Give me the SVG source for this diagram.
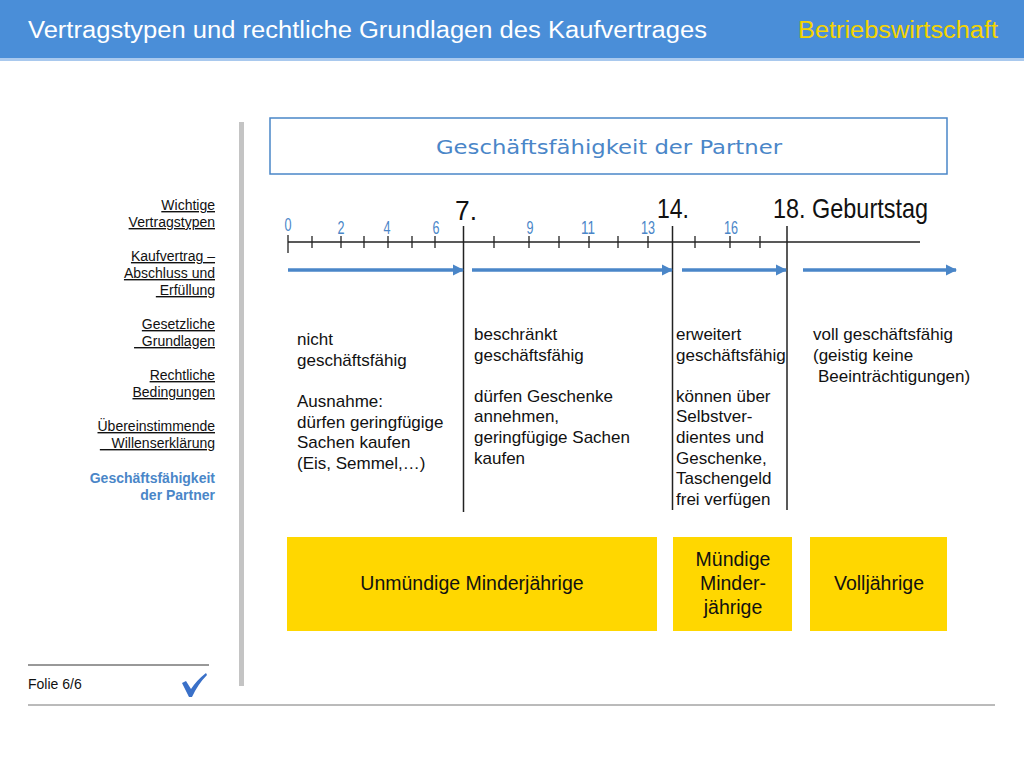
<svg xmlns="http://www.w3.org/2000/svg" width="1024" height="768" viewBox="0 0 1024 768">
<defs>
<style>
.t{font-family:"Liberation Sans",Arial,sans-serif;}
.nav{font-family:"Liberation Sans",Arial,sans-serif;font-size:14px;fill:#111;text-anchor:end;text-decoration:underline;}
.body{font-family:"Liberation Sans",Arial,sans-serif;font-size:17px;fill:#111;}
.num{font-family:"Liberation Sans",Arial,sans-serif;font-size:18px;fill:#4a86c8;text-anchor:middle;}
.big{font-family:"Liberation Sans",Arial,sans-serif;font-size:28px;fill:#111;}
.tick{stroke:#222;stroke-width:1.3;}
.vline{stroke:#222;stroke-width:1.5;}
.arr{stroke:#4a86c8;stroke-width:3.5;fill:none;}
.box{fill:#ffd700;}
.boxt{font-family:"Liberation Sans",Arial,sans-serif;font-size:19.5px;fill:#111;text-anchor:middle;}
</style>
<marker id="ah" viewBox="0 0 10 10" refX="9" refY="5" markerWidth="3.2" markerHeight="3.2" orient="auto" markerUnits="strokeWidth">
<path d="M0,0 L10,5 L0,10 z" fill="#4a86c8"/>
</marker>
</defs>
<rect width="1024" height="768" fill="#fff"/>
<g id="header">
<rect x="0" y="0" width="1024" height="58" fill="#4a8ed8"/>
<rect x="0" y="58" width="1024" height="3" fill="#a9c9ee"/>
<text class="t" x="28" y="38" font-size="23.5" fill="#fff" textLength="679" lengthAdjust="spacingAndGlyphs">Vertragstypen und rechtliche Grundlagen des Kaufvertrages</text>
<text class="t" x="998" y="38" font-size="23.5" fill="#f5d400" text-anchor="end" textLength="200" lengthAdjust="spacingAndGlyphs">Betriebswirtschaft</text>
</g>
<g id="sidebar">
<rect x="239" y="122" width="5" height="564" fill="#c4c4c4"/>
<text class="nav" x="215" y="210">Wichtige</text>
<text class="nav" x="215" y="227">Vertragstypen</text>
<text class="nav" x="215" y="261">Kaufvertrag –</text>
<text class="nav" x="215" y="278">Abschluss und</text>
<text class="nav" x="215" y="295" xml:space="preserve"> Erfüllung</text>
<text class="nav" x="215" y="329">Gesetzliche</text>
<text class="nav" x="215" y="346" xml:space="preserve">  Grundlagen</text>
<text class="nav" x="215" y="380">Rechtliche</text>
<text class="nav" x="215" y="397">Bedingungen</text>
<text class="nav" x="215" y="431">Übereinstimmende</text>
<text class="nav" x="215" y="448" xml:space="preserve">   Willenserklärung</text>
<text class="t" x="215" y="483" font-size="14" font-weight="bold" fill="#4a86c8" text-anchor="end">Geschäftsfähigkeit</text>
<text class="t" x="215" y="500" font-size="14" font-weight="bold" fill="#4a86c8" text-anchor="end">der Partner</text>
</g>
<g id="title-box">
<rect x="270" y="118" width="677" height="56" fill="#fff" stroke="#4a86c8" stroke-width="1.5"/>
<text x="436" y="154" font-family="'DejaVu Sans',Verdana,sans-serif" font-size="19.5" fill="#4a86c8" textLength="346" lengthAdjust="spacingAndGlyphs">Geschäftsfähigkeit der Partner</text>
</g>
<g id="timeline">
<line x1="288" y1="242" x2="920" y2="242" stroke="#222" stroke-width="1.3"/>
<line class="tick" x1="288" y1="235" x2="288" y2="253"/>
<line class="tick" x1="312" y1="236" x2="312" y2="248"/>
<line class="tick" x1="341" y1="236" x2="341" y2="248"/>
<line class="tick" x1="364" y1="236" x2="364" y2="248"/>
<line class="tick" x1="388" y1="236" x2="388" y2="248"/>
<line class="tick" x1="412" y1="236" x2="412" y2="248"/>
<line class="tick" x1="435" y1="236" x2="435" y2="248"/>
<line class="tick" x1="494" y1="236" x2="494" y2="248"/>
<line class="tick" x1="529" y1="236" x2="529" y2="248"/>
<line class="tick" x1="559" y1="236" x2="559" y2="248"/>
<line class="tick" x1="589" y1="236" x2="589" y2="248"/>
<line class="tick" x1="618" y1="236" x2="618" y2="248"/>
<line class="tick" x1="648" y1="236" x2="648" y2="248"/>
<line class="tick" x1="695" y1="236" x2="695" y2="248"/>
<line class="tick" x1="730" y1="236" x2="730" y2="248"/>
<line class="tick" x1="760" y1="236" x2="760" y2="248"/>
<text class="num" x="288" y="231" textLength="7" lengthAdjust="spacingAndGlyphs">0</text>
<text class="num" x="341" y="234" textLength="7" lengthAdjust="spacingAndGlyphs">2</text>
<text class="num" x="387" y="234" textLength="7" lengthAdjust="spacingAndGlyphs">4</text>
<text class="num" x="436" y="234" textLength="7" lengthAdjust="spacingAndGlyphs">6</text>
<text class="num" x="530" y="234" textLength="7" lengthAdjust="spacingAndGlyphs">9</text>
<text class="num" x="588" y="234" textLength="14" lengthAdjust="spacingAndGlyphs">11</text>
<text class="num" x="648" y="234" textLength="14" lengthAdjust="spacingAndGlyphs">13</text>
<text class="num" x="731" y="234" textLength="14" lengthAdjust="spacingAndGlyphs">16</text>
<line class="vline" x1="463.5" y1="226" x2="463.5" y2="512"/>
<line class="vline" x1="672.5" y1="226" x2="672.5" y2="510"/>
<line class="vline" x1="787" y1="226" x2="787" y2="510"/>
<text class="big" x="466" y="220" text-anchor="middle" textLength="22" lengthAdjust="spacingAndGlyphs">7.</text>
<text class="big" x="673" y="218" text-anchor="middle" textLength="32" lengthAdjust="spacingAndGlyphs">14.</text>
<text class="big" x="773" y="218" textLength="155" lengthAdjust="spacingAndGlyphs">18. Geburtstag</text>
</g>
<g id="connectors">
<line class="arr" x1="288" y1="270" x2="463" y2="270" marker-end="url(#ah)"/>
<line class="arr" x1="472" y1="270" x2="672" y2="270" marker-end="url(#ah)"/>
<line class="arr" x1="682" y1="270" x2="786" y2="270" marker-end="url(#ah)"/>
<line class="arr" x1="803" y1="270" x2="956" y2="270" marker-end="url(#ah)"/>
</g>
<g id="col1">
<text class="body" x="297" y="345">nicht</text>
<text class="body" x="297" y="366">geschäftsfähig</text>
<text class="body" x="297" y="407">Ausnahme:</text>
<text class="body" x="297" y="428">dürfen geringfügige</text>
<text class="body" x="297" y="448">Sachen kaufen</text>
<text class="body" x="297" y="469">(Eis, Semmel,…)</text>
</g>
<g id="col2">
<text class="body" x="474" y="340">beschränkt</text>
<text class="body" x="474" y="361">geschäftsfähig</text>
<text class="body" x="474" y="402">dürfen Geschenke</text>
<text class="body" x="474" y="422">annehmen,</text>
<text class="body" x="474" y="443">geringfügige Sachen</text>
<text class="body" x="474" y="464">kaufen</text>
</g>
<g id="col3">
<text class="body" x="676" y="340">erweitert</text>
<text class="body" x="676" y="361">geschäftsfähig</text>
<text class="body" x="676" y="402">können über</text>
<text class="body" x="676" y="422">Selbstver-</text>
<text class="body" x="676" y="443">dientes und</text>
<text class="body" x="676" y="464">Geschenke,</text>
<text class="body" x="676" y="484">Taschengeld</text>
<text class="body" x="676" y="505">frei verfügen</text>
</g>
<g id="col4">
<text class="body" x="813" y="340">voll geschäftsfähig</text>
<text class="body" x="813" y="361">(geistig keine</text>
<text class="body" x="818" y="382">Beeinträchtigungen)</text>
</g>
<g id="box-unmuendig">
<rect class="box" x="287" y="537" width="370" height="94"/>
<text class="boxt" x="472" y="590">Unmündige Minderjährige</text>
</g>
<g id="box-muendig">
<rect class="box" x="673" y="537" width="119" height="94"/>
<text class="boxt" x="733" y="566">Mündige</text>
<text class="boxt" x="733" y="590">Minder-</text>
<text class="boxt" x="733" y="614">jährige</text>
</g>
<g id="box-volljaehrig">
<rect class="box" x="810" y="537" width="137" height="94"/>
<text class="boxt" x="879" y="590">Volljährige</text>
</g>
<g id="footer">
<line x1="28" y1="665" x2="209" y2="665" stroke="#333" stroke-width="1"/>
<text class="t" x="28" y="689" font-size="14" fill="#111">Folie 6/6</text>
<path d="M182,683 L186,681 L191,689 Q197,680 206,673 L207,675 Q198,684 192,697 L189,697 Z" fill="#3a70c8"/>
<line x1="28" y1="705" x2="995" y2="705" stroke="#777" stroke-width="1"/>
</g>
</svg>
